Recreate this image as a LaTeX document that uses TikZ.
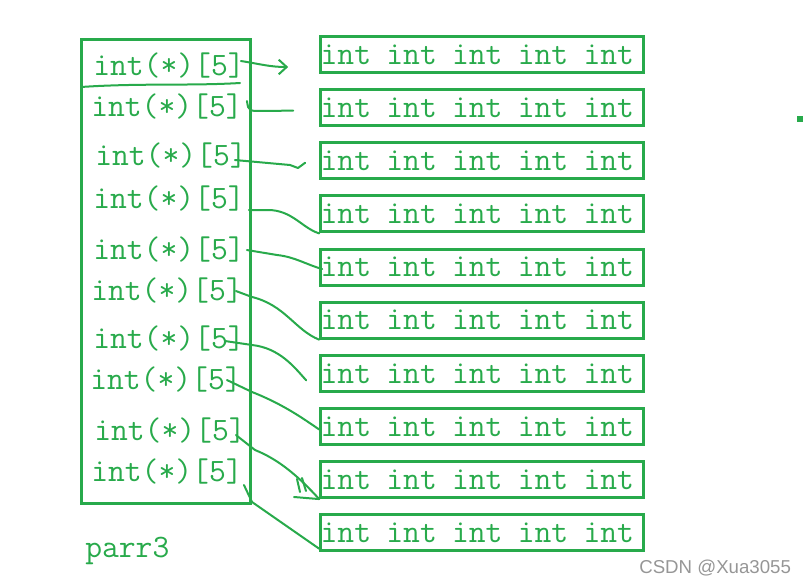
\documentclass[tikz,border=0pt]{standalone}
\usepackage{fontspec}
\newfontfamily\marksans{Liberation Sans}
\usetikzlibrary{arrows.meta,positioning,calc}
\definecolor{arrgreen}{RGB}{40,170,75}
\definecolor{markgray}{RGB}{150,150,150}
\newcommand{\introw}{\makebox[235pt][l]{int\hfill int\hfill int\hfill int\hfill int}}

\begin{document}
\begin{tikzpicture}[x=0.75pt, y=-0.75pt,
  node distance=10.6pt,
  rowbox/.style={rectangle, draw=arrgreen, line width=2.25pt, minimum width=242pt, minimum height=27pt,
    text width=242pt, inner xsep=0pt, inner ysep=0pt, align=left, text=arrgreen, font=\fontsize{24.5}{26}\ttfamily},
  ptr/.style={anchor=base west, inner sep=0pt, text=arrgreen, font=\fontsize{24.5}{26}\ttfamily},
  wire/.style={arrgreen, line width=1.5pt, line cap=round, line join=round}]
\useasboundingbox (0,0) rectangle (807,585);

% the array of pointers
\node[draw=arrgreen, line width=2.25pt, minimum width=126.75pt, minimum height=348pt, inner sep=0pt] (parr) at (166,271.5) {};
\node[ptr] (p1) at (93,76) {int(*)[5]};
\node[ptr] (p2) at (91,117) {int(*)[5]};
\node[ptr] (p3) at (95,166) {int(*)[5]};
\node[ptr] (p4) at (93,208) {int(*)[5]};
\node[ptr] (p5) at (93,259) {int(*)[5]};
\node[ptr] (p6) at (91,300) {int(*)[5]};
\node[ptr] (p7) at (93,348) {int(*)[5]};
\node[ptr] (p8) at (90,389) {int(*)[5]};
\node[ptr] (p9) at (94,440) {int(*)[5]};
\node[ptr] (p10) at (91,481) {int(*)[5]};
\node[ptr] (name) at (85,557) {parr3};
\draw[wire] (81,87) .. controls (140,83) and (190,86) .. (240,83);

% the rows of five ints
\node[rowbox] (r1) at (482,54.5) {\introw};
\node[rowbox, below=of r1] (r2) {\introw};
\node[rowbox, below=of r2] (r3) {\introw};
\node[rowbox, below=of r3] (r4) {\introw};
\node[rowbox, below=of r4] (r5) {\introw};
\node[rowbox, below=of r5] (r6) {\introw};
\node[rowbox, below=of r6] (r7) {\introw};
\node[rowbox, below=of r7] (r8) {\introw};
\node[rowbox, below=of r8] (r9) {\introw};
\node[rowbox, below=of r9] (r10) {\introw};

% hand-drawn pointers
\draw[wire, -{Straight Barb[length=6pt, width=11pt]}] ($(p1.east)+(-4,-5)$) .. controls (260,64) and (270,67) .. ($(r1.west)+(-31,12.5)$);
\draw[wire] ($(p2.east)+(4,-6)$) .. controls (248,104) and (246,111) .. (256,111) -- ($(r2.west)+(-26,3)$);
\draw[wire] ($(p3.east)+(-12,4)$) -- (290,165) -- (298,168) -- ($(r3.west)+(-14,2)$);
\draw[wire] ($(p4.east)+(4,12)$) -- (268,210) .. controls (292,210) and (302,228) .. (r4.south west);
\draw[wire] ($(p5.east)+(2,1)$) -- (277,255) .. controls (295,257) and (305,264) .. ($(r5.west)+(3,2)$);
\draw[wire] ($(p6.east)+(-7,1)$) -- (252,297) .. controls (285,305) and (295,330) .. (r6.south west);
\draw[wire] ($(p7.east)+(-20,3)$) -- (252,345) .. controls (280,348) and (295,368) .. ($(r7.west)+(-13,7)$);
\draw[wire] ($(p8.east)+(-15,1)$) -- (252,392) .. controls (285,405) and (305,420) .. ($(r8.west)+(0,3)$);
\draw[wire] ($(p9.east)+(-10,5)$) -- (255,450) .. controls (280,460) and (300,478) .. (r9.south west);
\draw[wire] (297,479) -- (300,492);
\draw[wire] (302,478) -- (306,491);
\draw[wire] (294,497) -- (r9.south west);
\draw[wire] ($(p10.east)+(1,14)$) -- (252,502) -- ($(r10.west)+(0,16)$);

\fill[arrgreen] (797,116) rectangle (803,122);
\node[anchor=west, inner sep=0pt, text=markgray, font=\marksans\fontsize{14}{16}\selectfont] (mark) at (639,568) {CSDN @Xua3055};
\end{tikzpicture}
\end{document}
